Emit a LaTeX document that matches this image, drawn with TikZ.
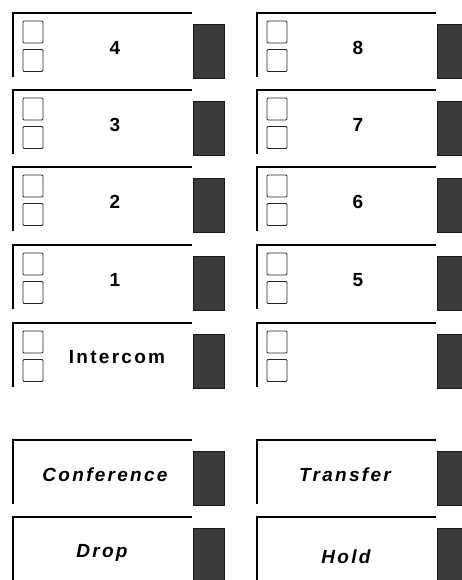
\documentclass[tikz,border=0pt]{standalone}
\usepackage{fontspec}
\setmainfont{Liberation Sans}
\begin{document}
\begin{tikzpicture}[x=1pt,y=-1pt,
  keyline/.style={line width=2.4pt},
  lamp/.style={draw=black!85,line width=0.9pt,rounded corners=1pt,
    minimum width=20pt,minimum height=22pt,inner sep=0pt},
  bar/.style={fill=black!77,draw=black!90,line width=0.6pt},
  keylabel/.style={font=\fontsize{19}{22}\selectfont\bfseries\addfontfeature{LetterSpace=12}},
  funclabel/.style={font=\fontsize{19}{22}\selectfont\bfseries\itshape\addfontfeature{LetterSpace=12}}]
  \useasboundingbox (0,0) rectangle (461,580);
  % line keys with two lamps each
  \foreach \n/\x/\y in {4/0/13, 3/0/90, 2/0/167, 1/0/245, i/0/323,
                        8/244/13, 7/244/90, 6/244/167, 5/244/245, j/244/323}{
    \draw[keyline] (\x+13,\y+64) |- (\x+192,\y);
    \node[lamp] (lamp\n a) at (\x+33,\y+19) {};
    \node[lamp] (lamp\n b) at (\x+33,\y+47.5) {};
    \draw[bar] (\x+193,\y+11) rectangle (\x+224,\y+65);
  }
  % feature keys
  \foreach \x/\y in {0/440, 244/440, 0/517, 244/517}{
    \draw[keyline] (\x+13,\y+64) |- (\x+192,\y);
    \draw[bar] (\x+193,\y+11) rectangle (\x+224,\y+65);
  }
  \node[keylabel] (k4) at (115,48) {4};
  \node[keylabel] (k3) at (115,125) {3};
  \node[keylabel] (k2) at (115,202) {2};
  \node[keylabel] (k1) at (115,280) {1};
  \node[keylabel] (kicom) at (117,357) {Intercom};
  \node[keylabel] (k8) at (358,48) {8};
  \node[keylabel] (k7) at (358,125) {7};
  \node[keylabel] (k6) at (358,202) {6};
  \node[keylabel] (k5) at (358,280) {5};
  \node[funclabel] (kconf) at (105,475) {Conference};
  \node[funclabel] (kdrop) at (102,553) {Drop};
  \node[funclabel] (ktrans) at (345,475) {Transfer};
  \node[funclabel] (khold) at (346,557) {Hold};
\end{tikzpicture}
\end{document}
